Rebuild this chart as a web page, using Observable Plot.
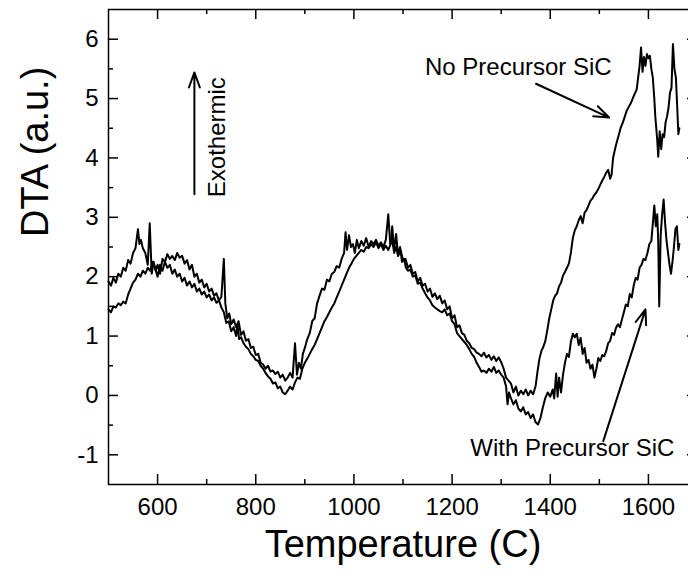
<!DOCTYPE html>
<html><head><meta charset="utf-8">
<script src="https://cdn.jsdelivr.net/npm/d3@7"></script>
<script src="https://cdn.jsdelivr.net/npm/@observablehq/plot@0.6"></script>
<style>html,body{margin:0;padding:0;background:#fff;overflow:hidden;}</style>
</head><body><div id="chart"></div>
<script>
// No Precursor SiC
const noPreT = [500,505,510,515,520,525,530,535,540,545,550,555,560,563,566,570,575,580,584,588,592,596,600,605,610,615,620,625,630,635,640,645,650,655,660,665,670,675,680,685,690,695,700,705,710,715,720,725,730,735,738,742,746,750,755,760,765,770,775,780,785,790,795,800,805,810,815,820,825,830,835,840,845,850,855,860,865,870,875,880,884,888,892,896,900,905,910,915,920,925,930,935,940,945,950,955,960,965,970,975,980,983,986,990,994,998,1002,1006,1010,1015,1020,1025,1030,1035,1040,1045,1050,1055,1060,1065,1070,1074,1078,1082,1086,1090,1095,1100,1105,1110,1115,1120,1125,1130,1135,1140,1145,1150,1155,1160,1165,1170,1175,1180,1185,1190,1195,1200,1205,1210,1215,1220,1225,1230,1235,1240,1245,1250,1255,1260,1265,1270,1275,1280,1285,1290,1295,1300,1305,1310,1315,1320,1325,1330,1335,1340,1345,1350,1355,1360,1365,1370,1374,1378,1382,1386,1390,1394,1398,1402,1406,1410,1414,1418,1422,1426,1430,1434,1438,1442,1446,1450,1454,1458,1462,1466,1470,1474,1478,1482,1486,1490,1494,1498,1502,1506,1510,1514,1518,1522,1525,1528,1532,1536,1540,1544,1548,1552,1556,1560,1564,1568,1572,1576,1579,1582,1585,1588,1591,1594,1597,1600,1603,1606,1609,1612,1614,1616,1618,1620,1623,1626,1629,1632,1635,1638,1641,1644,1647,1650,1653,1656,1659,1661,1663];
const noPreV = [1.92,1.85,1.98,1.90,2.05,2.00,2.15,2.10,2.28,2.22,2.40,2.48,2.80,2.55,2.62,2.48,2.40,2.20,2.90,2.05,2.25,2.10,2.20,2.05,2.30,2.25,2.38,2.30,2.35,2.28,2.40,2.32,2.35,2.22,2.28,2.12,2.20,2.00,2.05,1.90,1.95,1.82,1.88,1.75,1.80,1.68,1.72,1.60,1.66,2.30,1.55,1.30,1.38,1.20,1.28,1.15,1.25,1.02,1.08,0.92,0.95,0.80,0.82,0.68,0.70,0.55,0.52,0.45,0.50,0.40,0.42,0.36,0.40,0.30,0.35,0.25,0.30,0.38,0.30,0.88,0.35,0.55,0.45,0.70,0.80,0.95,1.05,1.25,1.30,1.55,1.68,1.80,1.78,1.95,1.92,2.05,2.08,2.18,2.15,2.30,2.40,2.75,2.45,2.70,2.50,2.55,2.40,2.62,2.48,2.60,2.52,2.65,2.50,2.60,2.55,2.62,2.52,2.58,2.50,2.62,3.05,2.55,2.62,2.40,2.50,2.35,2.45,2.28,2.30,2.15,2.20,2.05,2.08,1.92,1.98,1.85,1.88,1.75,1.80,1.66,1.72,1.62,1.68,1.55,1.60,1.45,1.50,1.30,1.35,1.15,1.18,1.05,1.02,0.92,0.88,0.80,0.78,0.72,0.70,0.66,0.72,0.64,0.68,0.60,0.66,0.58,0.64,0.56,0.45,0.30,0.25,0.20,0.05,0.15,0.00,0.08,0.02,0.10,0.00,0.08,0.02,0.15,0.40,0.62,0.75,0.82,0.92,1.10,1.30,1.45,1.60,1.68,1.72,1.84,1.90,2.02,2.08,2.15,2.22,2.40,2.65,2.78,2.85,2.95,3.02,2.90,3.08,3.12,3.20,3.28,3.32,3.38,3.42,3.48,3.55,3.62,3.68,3.75,3.80,3.65,3.72,4.00,4.15,4.28,4.40,4.52,4.60,4.70,4.80,4.86,4.92,5.00,5.08,5.15,5.35,5.55,5.86,5.45,5.70,5.55,5.75,5.68,5.72,5.50,5.35,5.00,4.70,4.50,4.30,4.02,4.45,4.15,4.40,4.35,4.60,4.70,4.85,5.10,5.18,5.92,5.50,5.35,4.80,4.40,4.50];
// With Precursor SiC
const withPreT = [500,505,510,515,520,525,530,535,540,545,550,555,560,565,570,575,580,585,590,595,600,605,610,615,620,625,630,635,640,645,650,655,660,665,670,675,680,685,690,695,700,705,710,715,720,725,730,735,740,745,750,755,760,763,766,770,775,780,785,790,795,800,805,810,815,820,825,830,835,840,845,850,855,860,865,870,875,880,885,890,895,900,905,910,915,920,925,930,935,940,945,950,955,960,965,970,975,980,985,990,995,1000,1005,1010,1015,1020,1025,1030,1035,1040,1045,1050,1055,1060,1065,1070,1075,1078,1082,1086,1090,1094,1098,1102,1106,1110,1115,1120,1125,1130,1135,1140,1145,1150,1155,1160,1165,1170,1175,1180,1185,1190,1195,1200,1205,1210,1215,1220,1225,1230,1235,1240,1245,1250,1255,1260,1265,1270,1275,1280,1285,1290,1295,1300,1305,1310,1313,1316,1320,1325,1330,1335,1340,1345,1350,1355,1360,1365,1370,1375,1380,1385,1390,1395,1400,1405,1408,1412,1415,1418,1422,1426,1430,1434,1438,1442,1446,1450,1454,1458,1462,1466,1470,1474,1478,1482,1486,1490,1494,1498,1502,1506,1510,1514,1518,1522,1526,1530,1534,1538,1542,1546,1550,1554,1558,1562,1566,1570,1574,1578,1582,1586,1590,1594,1598,1602,1606,1609,1612,1615,1618,1620,1622,1625,1628,1631,1634,1637,1640,1643,1646,1649,1652,1655,1658,1661,1663];
const withPreV = [1.45,1.40,1.50,1.48,1.55,1.52,1.58,1.55,1.70,1.80,1.90,1.95,2.05,2.00,2.10,2.05,2.15,2.10,2.25,2.15,2.00,2.20,2.10,2.25,2.15,2.20,2.05,2.12,2.00,2.05,1.92,1.98,1.85,1.92,1.82,1.88,1.75,1.80,1.70,1.75,1.65,1.70,1.60,1.65,1.56,1.60,1.48,1.40,1.22,1.25,1.08,1.15,1.00,1.20,0.95,0.98,0.88,0.82,0.78,0.70,0.66,0.60,0.58,0.50,0.45,0.38,0.32,0.28,0.20,0.22,0.12,0.15,0.05,0.02,0.08,0.15,0.10,0.22,0.30,0.28,0.45,0.55,0.62,0.70,0.78,0.85,0.95,1.05,1.15,1.25,1.32,1.40,1.48,1.55,1.65,1.75,1.85,1.95,2.05,2.15,2.22,2.30,2.35,2.40,2.45,2.42,2.50,2.48,2.55,2.50,2.58,2.48,2.55,2.45,2.52,2.45,2.55,2.85,2.45,2.72,2.35,2.50,2.25,2.30,2.15,2.10,2.12,2.00,2.02,1.88,1.90,1.80,1.72,1.65,1.60,1.52,1.48,1.45,1.42,1.40,1.45,1.35,1.38,1.25,1.20,1.05,1.00,0.95,0.90,0.85,0.78,0.70,0.65,0.55,0.48,0.40,0.42,0.38,0.45,0.40,0.48,0.38,0.42,0.35,0.30,0.15,-0.15,0.05,-0.05,-0.15,-0.08,-0.22,-0.27,-0.20,-0.32,-0.28,-0.38,-0.32,-0.45,-0.49,-0.38,-0.20,-0.04,0.05,-0.02,0.10,-0.05,0.37,-0.02,0.30,0.05,0.35,0.55,0.70,0.65,0.90,1.04,0.98,1.04,0.85,0.97,0.70,0.80,0.55,0.60,0.45,0.52,0.30,0.45,0.63,0.58,0.68,0.66,0.75,0.88,0.92,1.05,1.02,1.14,1.20,1.15,1.28,1.40,1.53,1.50,1.71,1.65,1.85,1.98,1.95,2.15,2.20,2.30,2.28,2.40,2.55,2.60,2.90,3.20,2.85,3.05,2.60,1.50,2.70,3.05,3.30,2.90,2.60,2.40,2.20,2.05,2.25,2.50,2.80,2.85,2.45,2.55];

const xMajor = [600,800,1000,1200,1400,1600];
const xMinor = [700,900,1100,1300,1500,1700];
const yMajor = [-1,0,1,2,3,4,5,6];
const yMinor = [-0.5,0.5,1.5,2.5,3.5,4.5,5.5];
const xDomain = [500,1700];
const yDomain = [-1.5,6.5];

const annoText = [
  {T: 722, v: 4.35, label: "Exothermic", rotate: -90},
  {T: 1335, v: 5.52, label: "No Precursor SiC", rotate: 0},
  {T: 1445, v: -0.89, label: "With Precursor SiC", rotate: 0}
];
const annoArrows = [
  {x1: 675, y1: 3.39, x2: 675, y2: 5.44},
  {x1: 1371, y1: 5.25, x2: 1520, y2: 4.68},
  {x1: 1508, y1: -0.77, x2: 1594, y2: 1.45}
];

const rows = [
  ...noPreT.map((t, i) => ({T: t, v: noPreV[i], series: "No Precursor SiC"})),
  ...withPreT.map((t, i) => ({T: t, v: withPreV[i], series: "With Precursor SiC"}))
];

const W = 698, H = 579, ML = 108, MR = 1, MT = 9, MB = 95;
const IW = W - ML - MR, IH = H - MT - MB;
const font = "'Liberation Sans', Arial, sans-serif";

const chart = Plot.plot({
  width: W, height: H,
  marginLeft: ML, marginRight: MR, marginTop: MT, marginBottom: MB,
  style: {fontFamily: font, maxWidth: "none", overflow: "visible", background: "#fff", color: "#000"},
  x: {domain: xDomain},
  y: {domain: yDomain},
  marks: [
    Plot.line(rows, {x: "T", y: "v", z: "series", stroke: "#000", strokeWidth: 2, strokeLinejoin: "round"}),
    Plot.frame({stroke: "#000", strokeWidth: 1.5}),
    Plot.ruleX(xMajor, {x: d => d, insetTop: IH - 10, stroke: "#000", strokeWidth: 1.5}),
    Plot.ruleX(xMajor, {x: d => d, insetBottom: IH - 10, stroke: "#000", strokeWidth: 1.5}),
    Plot.ruleX(xMinor, {x: d => d, insetTop: IH - 5, stroke: "#000", strokeWidth: 1.5}),
    Plot.ruleX(xMinor, {x: d => d, insetBottom: IH - 5, stroke: "#000", strokeWidth: 1.5}),
    Plot.ruleY(yMajor, {y: d => d, insetRight: IW - 10, stroke: "#000", strokeWidth: 1.5}),
    Plot.ruleY(yMajor, {y: d => d, insetLeft: IW - 10, stroke: "#000", strokeWidth: 1.5}),
    Plot.ruleY(yMinor, {y: d => d, insetRight: IW - 5, stroke: "#000", strokeWidth: 1.5}),
    Plot.ruleY(yMinor, {y: d => d, insetLeft: IW - 5, stroke: "#000", strokeWidth: 1.5}),
    Plot.axisX({ticks: xMajor, tickSize: 0, tickPadding: 13, fontSize: 24, label: null, tickFormat: d => String(d)}),
    Plot.axisY({ticks: yMajor, tickSize: 0, tickPadding: 10, fontSize: 24, label: null, tickFormat: d => String(d)}),
    Plot.text(["Temperature (C)"], {frameAnchor: "bottom", dy: 72, fontSize: 38, fill: "#000"}),
    Plot.text(["DTA (a.u.)"], {frameAnchor: "left", rotate: -90, dx: -73, dy: -10, fontSize: 38, fill: "#000"}),
    Plot.text(annoText, {x: "T", y: "v", text: "label", rotate: "rotate", fontSize: 24, fill: "#000"}),
    Plot.arrow(annoArrows, {x1: "x1", y1: "y1", x2: "x2", y2: "y2", stroke: "#000", strokeWidth: 2, headLength: 12, headAngle: 40})
  ]
});
document.getElementById("chart").appendChild(chart);
</script>
</body></html>
